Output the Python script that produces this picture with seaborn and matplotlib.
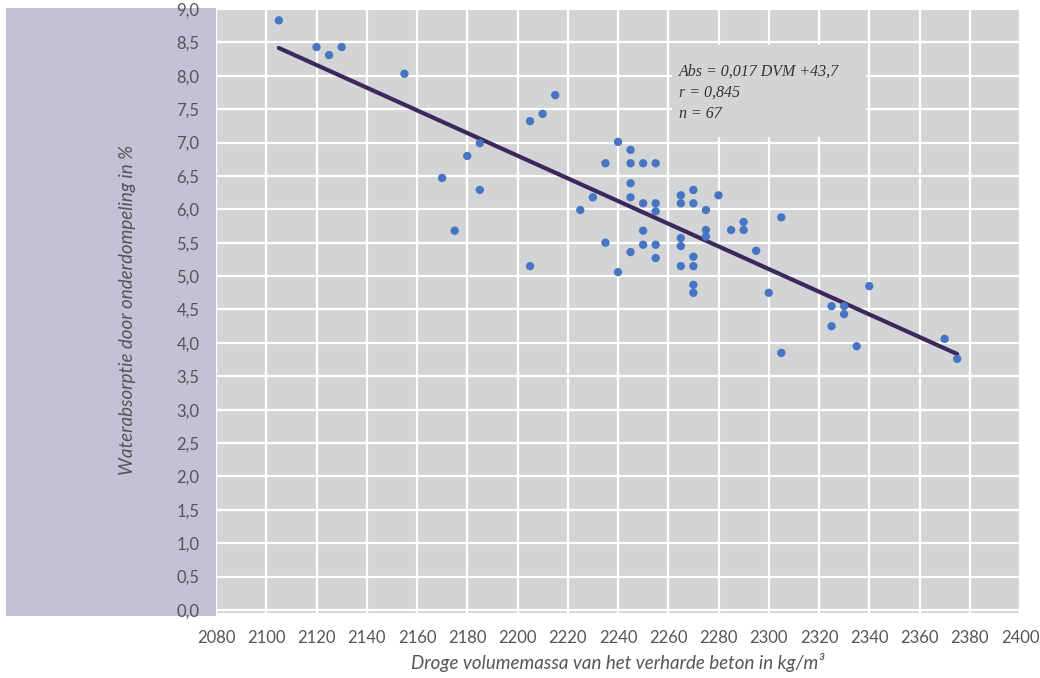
import matplotlib.pyplot as plt
import matplotlib.ticker as mtick
from matplotlib.patches import Rectangle
import numpy as np
import pandas as pd
import seaborn as sns

# droge volumemassa (kg/m3) en waterabsorptie (%) per proefstuk
density = [2105, 2120, 2125, 2130, 2155, 2170, 2175, 2180, 2185, 2185,
           2205, 2210, 2215, 2205, 2225, 2230, 2235, 2235, 2240, 2240,
           2245, 2245, 2245, 2245, 2245, 2250, 2250, 2250, 2250,
           2255, 2255, 2255, 2255, 2255,
           2265, 2265, 2265, 2265, 2265,
           2270, 2270, 2270, 2270, 2270, 2270,
           2275, 2275, 2275, 2280, 2285, 2290, 2290, 2295, 2300,
           2305, 2305, 2325, 2325, 2330, 2330, 2335, 2340, 2370, 2375]
absorption = [8.83, 8.43, 8.31, 8.43, 8.03, 6.47, 5.68, 6.80, 6.99, 6.29,
              7.32, 7.43, 7.71, 5.15, 5.99, 6.18, 6.69, 5.50, 7.01, 5.06,
              6.89, 6.69, 6.39, 6.18, 5.36, 6.69, 6.09, 5.68, 5.47,
              6.69, 6.09, 5.97, 5.47, 5.27,
              6.21, 6.09, 5.57, 5.45, 5.15,
              6.29, 6.09, 5.29, 5.15, 4.87, 4.75,
              5.99, 5.69, 5.59, 6.21, 5.69, 5.81, 5.69, 5.38, 4.75,
              5.88, 3.85, 4.55, 4.25, 4.55, 4.43, 3.95, 4.85, 4.06, 3.76]

x_ticks = list(range(2080, 2401, 20))
y_ticks = [i * 0.5 for i in range(19)]
stats_lines = ['Abs = 0,017 DVM +43,7', 'r = 0,845', 'n = 67']

df = pd.DataFrame({'dvm': density, 'abs': absorption})

sns.set_style('darkgrid', {'axes.facecolor': '#d3d4d6', 'grid.color': 'white',
                           'axes.edgecolor': '#d3d4d6'})
plt.rcParams['font.family'] = ['Lato', 'DejaVu Sans']

panel = '#d3d4d6'
lav = '#c5c0d6'
txt = '#555555'

fig = plt.figure(figsize=(10.4, 6.78), dpi=100)
# lavender band left of the plot
fig.patches.append(Rectangle((6 / 1040, 62 / 678), 210 / 1040, 608 / 678,
                             transform=fig.transFigure, facecolor=lav,
                             edgecolor='none', zorder=-1))
ax = fig.add_axes([216 / 1040, 65 / 678, 804 / 1040, 604 / 678])

ax.grid(True, color='white', linewidth=1.6)
ax.set_axisbelow(True)

# box behind the equation text, hides the grid there
ax.add_patch(Rectangle((0.567, 0.788), 0.241, 0.152, transform=ax.transAxes,
                       facecolor=panel, edgecolor='none', zorder=1.5))

sns.scatterplot(data=df, x='dvm', y='abs', ax=ax, color='#4775c3', s=36,
                edgecolor='none', zorder=3)
sns.regplot(data=df, x='dvm', y='abs', ax=ax, ci=None, scatter=False,
            line_kws={'color': '#3d275c', 'linewidth': 3.0, 'zorder': 2.5})

ax.set_xlim(2080, 2400)
ax.set_ylim(-0.045, 9.0)
ax.set_xticks(x_ticks)
ax.set_yticks(y_ticks)
ax.yaxis.set_major_formatter(mtick.FuncFormatter(lambda v, p: f'{v:.1f}'.replace('.', ',')))
ax.tick_params(axis='both', length=0, labelsize=12, labelcolor=txt)
ax.tick_params(axis='y', pad=12)
ax.tick_params(axis='x', pad=12)
for s in ax.spines.values():
    s.set_visible(False)

ax.set_xlabel('Droge volumemassa van het verharde beton in kg/m³', fontsize=13.5,
              style='italic', color=txt)
ax.set_ylabel('Waterabsorptie door onderdompeling in %', fontsize=13.5,
              style='italic', color=txt)
ax.xaxis.set_label_coords(0.5, -0.066)
ax.yaxis.set_label_coords(-0.099, 0.502)

for i, line in enumerate(stats_lines):
    ax.text(0.576, 0.896 - i * 0.035, line, transform=ax.transAxes, fontsize=11.5,
            style='italic', color='#333333', va='center', ha='left', zorder=4,
            family=['Liberation Serif', 'DejaVu Serif'])

plt.savefig('out.png', dpi=100)
